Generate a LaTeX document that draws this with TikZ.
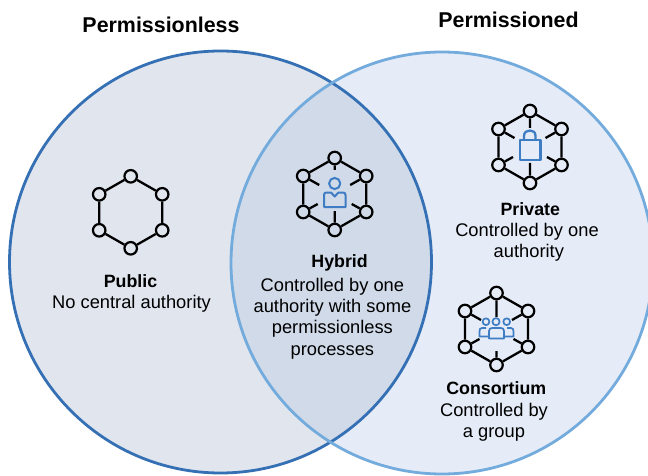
\documentclass[tikz,border=0pt]{standalone}
\usepackage{fontspec}
\setmainfont{Liberation Sans}
\definecolor{leftfill}{HTML}{E0E5EE}
\definecolor{rightfill}{HTML}{E5ECF7}
\definecolor{midfill}{HTML}{D0DAE9}
\definecolor{leftline}{HTML}{3570B5}
\definecolor{rightline}{HTML}{74ABDD}
\definecolor{iconblue}{HTML}{3E7CC4}
\tikzset{
  netnode/.style={circle,draw=black,line width=2.2pt,inner sep=0pt,minimum size=12.5pt},
  netedge/.style={draw=black,line width=2.3pt},
  setring/.style={line width=2.8pt},
  heading/.style={font=\fontsize{21.4}{25}\selectfont\bfseries,text=black,inner sep=0pt},
  titletext/.style={font=\fontsize{17.8}{21}\selectfont\bfseries,text=black,inner sep=0pt,anchor=base},
  bodytext/.style={align=center,inner sep=0pt,text=black,font=\fontsize{18.3}{21.2}\selectfont},
  icon/.style={draw=iconblue,line width=2pt,line join=round}
}
% #1 prefix, #2 x, #3 y, #4 spokes 1/0, #5 top spoke end, #6 bottom spoke end
\newcommand{\hexnet}[6]{%
  \begin{scope}[shift={(#2,#3)}]
    \node[netnode] (#1a) at (0,-36) {};
    \node[netnode] (#1b) at (31.5,-18) {};
    \node[netnode] (#1c) at (31.5,18) {};
    \node[netnode] (#1d) at (0,36) {};
    \node[netnode] (#1e) at (-31.5,18) {};
    \node[netnode] (#1f) at (-31.5,-18) {};
    \draw[netedge] (#1a)--(#1b) (#1b)--(#1c) (#1c)--(#1d) (#1d)--(#1e) (#1e)--(#1f) (#1f)--(#1a);
    \ifnum#4=1
      \coordinate (#1s1) at (0,#5);
      \coordinate (#1s2) at (15.5,-9);
      \coordinate (#1s3) at (17,10);
      \coordinate (#1s4) at (0,#6);
      \coordinate (#1s5) at (-17,10);
      \coordinate (#1s6) at (-15.5,-9);
      \draw[netedge] (#1a)--(#1s1) (#1b)--(#1s2) (#1c)--(#1s3) (#1d)--(#1s4) (#1e)--(#1s5) (#1f)--(#1s6);
    \fi
  \end{scope}}
\begin{document}
\begin{tikzpicture}[x=1pt,y=-1pt]
\useasboundingbox (0,0) rectangle (648,476);
\fill[white] (0,0) rectangle (648,476);
\begin{scope}
  \clip (0,0) rectangle (648,476);
  \fill[leftfill] (220.5,262) circle (211);
  \fill[rightfill] (442,263) circle (211);
  \begin{scope}
    \clip (220.5,262) circle (211);
    \fill[midfill] (442,263) circle (211);
  \end{scope}
  \draw[setring,leftline] (220.5,262) circle (211);
  \draw[setring,rightline] (442,263) circle (211);
\end{scope}

\node[heading] (permless) at (161,25) {Permissionless};
\node[heading] (perm) at (508.5,20) {Permissioned};

\hexnet{pu}{130.7}{212.3}{0}{0}{0}
\node[titletext] (public) at (130.5,287.5) {Public};
\node[bodytext] (publicb) at (131.5,303.5) {No central authority};

\hexnet{hy}{334.7}{194}{1}{-24}{17}
\draw[icon] (334.7,183.5) circle (5.6);
\draw[icon] (324,207) -- (324,195) .. controls (324,193) and (325,192.5) .. (327,192.5) -- (331,192.5) -- (334.7,196.5) -- (338.4,192.5) -- (342.5,192.5) .. controls (344.5,192.5) and (345.5,193) .. (345.5,195) -- (345.5,207) -- cycle;
\node[titletext] (hybrid) at (339.6,267.3) {Hybrid};
\node[bodytext] (hybridb) at (332.4,318.5) {Controlled by one\\authority with some\\permissionless\\processes};

\hexnet{pr}{530}{147}{1}{-19}{16}
\draw[icon,line width=2.6pt] (520,140) rectangle (540.5,160);
\draw[icon,line width=2.3pt] (524,140) -- (524,136) .. controls (524,132) and (527,130.5) .. (530,130.5) .. controls (533,130.5) and (535.5,132) .. (535.5,136) -- (535.5,140);
\node[titletext] (private) at (530.3,215) {Private};
\node[bodytext] (privateb) at (527,242) {Controlled by one\\\hspace*{1.5em}authority\hspace*{1.3em}};

\hexnet{co}{496.5}{329}{1}{-12}{22}
\draw[icon,line width=1.7pt] (486,321.7) circle (3.4) (496,321.7) circle (3.6) (506.7,321.7) circle (3.4);
\draw[icon,line width=1.7pt] (489,338.5) -- (489,331) .. controls (489,328.5) and (490.5,328) .. (492.5,328) -- (500.5,328) .. controls (502.5,328) and (504,328.5) .. (504,331) -- (504,338.5) -- cycle;
\draw[icon,line width=1.7pt] (486,328) -- (482,328) .. controls (480,328) and (479.5,329.5) .. (479.5,331.5) -- (479.5,336.5) -- (489,336.5);
\draw[icon,line width=1.7pt] (507,328) -- (511,328) .. controls (513,328) and (513.5,329.5) .. (513.5,331.5) -- (513.5,336.5) -- (504,336.5);
\node[titletext] (consortium) at (496.3,394.3) {Consortium};
\node[bodytext] (consortiumb) at (494,422) {Controlled by\\a group};
\end{tikzpicture}
\end{document}
